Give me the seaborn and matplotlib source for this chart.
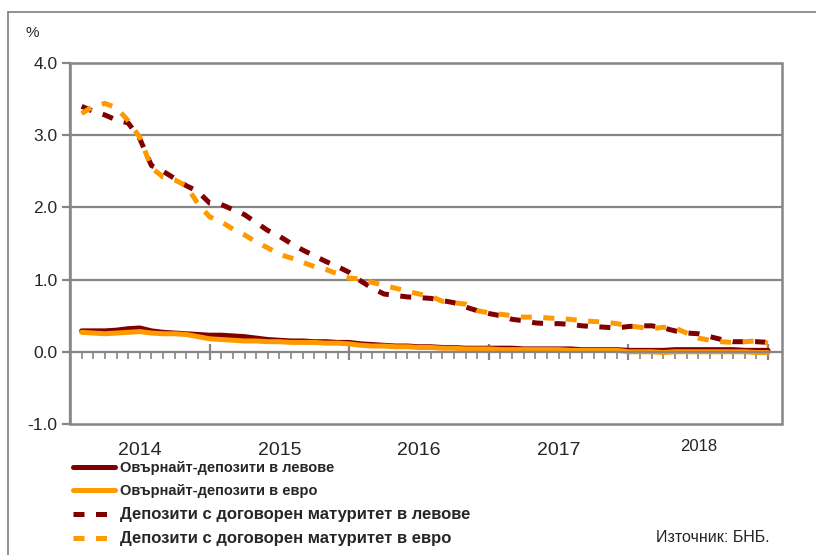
import numpy as np
import pandas as pd
import matplotlib
matplotlib.use('Agg')
import matplotlib.pyplot as plt
import matplotlib.transforms as mtransforms
from matplotlib.patches import Rectangle
import seaborn as sns

# Monthly data, Jan 2014 - Dec 2018 (%)
months = list(range(1, 61))

overnight_bgn = [0.29, 0.29, 0.29, 0.30, 0.32, 0.33, 0.29, 0.27, 0.26, 0.25, 0.24, 0.23,
                 0.23, 0.22, 0.21, 0.19, 0.17, 0.16, 0.15, 0.15, 0.14, 0.14, 0.13, 0.13,
                 0.11, 0.10, 0.09, 0.08, 0.08, 0.07, 0.07, 0.06, 0.06, 0.05, 0.05, 0.05,
                 0.05, 0.05, 0.04, 0.04, 0.04, 0.04, 0.04, 0.03, 0.03, 0.03, 0.03, 0.02,
                 0.02, 0.02, 0.02, 0.03, 0.03, 0.03, 0.03, 0.03, 0.03, 0.02, 0.02, 0.02]

overnight_eur = [0.27, 0.26, 0.25, 0.26, 0.27, 0.28, 0.26, 0.25, 0.25, 0.24, 0.21, 0.18,
                 0.17, 0.16, 0.15, 0.15, 0.14, 0.14, 0.13, 0.13, 0.13, 0.12, 0.12, 0.11,
                 0.09, 0.08, 0.08, 0.07, 0.07, 0.06, 0.06, 0.05, 0.05, 0.04, 0.04, 0.04,
                 0.03, 0.03, 0.03, 0.03, 0.03, 0.03, 0.02, 0.02, 0.02, 0.02, 0.02, 0.00,
                 0.00, 0.00, -0.01, 0.00, 0.00, 0.00, 0.00, 0.00, 0.00, 0.00, -0.01, -0.01]

term_bgn = [3.40, 3.33, 3.28, 3.21, 3.17, 2.95, 2.58, 2.50, 2.40, 2.30, 2.22, 2.06,
            2.04, 1.97, 1.90, 1.79, 1.68, 1.60, 1.50, 1.41, 1.33, 1.25, 1.18, 1.10,
            0.98, 0.88, 0.80, 0.78, 0.76, 0.75, 0.74, 0.71, 0.68, 0.62, 0.57, 0.53,
            0.50, 0.45, 0.43, 0.40, 0.39, 0.39, 0.38, 0.36, 0.35, 0.34, 0.33, 0.35,
            0.36, 0.36, 0.33, 0.29, 0.26, 0.25, 0.21, 0.17, 0.14, 0.14, 0.14, 0.13]

term_eur = [3.30, 3.40, 3.44, 3.38, 3.20, 2.97, 2.55, 2.42, 2.38, 2.30, 2.05, 1.87,
            1.80, 1.70, 1.62, 1.52, 1.44, 1.35, 1.30, 1.24, 1.18, 1.14, 1.08, 1.02,
            1.01, 0.96, 0.92, 0.88, 0.84, 0.80, 0.77, 0.70, 0.68, 0.66, 0.57, 0.54,
            0.52, 0.50, 0.48, 0.48, 0.47, 0.46, 0.45, 0.43, 0.42, 0.41, 0.39, 0.36,
            0.34, 0.32, 0.34, 0.33, 0.26, 0.19, 0.16, 0.14, 0.13, 0.14, 0.15, 0.12]

series_names = ['Овърнайт-депозити в левове',
                'Овърнайт-депозити в евро',
                'Депозити с договорен матуритет в левове',
                'Депозити с договорен матуритет в евро']
years = ['2014', '2015', '2016', '2017', '2018']
y_ticks = [-1.0, 0.0, 1.0, 2.0, 3.0, 4.0]

colors = {series_names[0]: '#800000', series_names[1]: '#FF9900',
          series_names[2]: '#800000', series_names[3]: '#FF9900'}
dashes = {series_names[0]: '', series_names[1]: '',
          series_names[2]: (2.2, 2.3), series_names[3]: (2.2, 2.3)}

# Long-form table for seaborn
frames = []
for name, vals in zip(series_names, [overnight_bgn, overnight_eur, term_bgn, term_eur]):
    frames.append(pd.DataFrame({'month': months, 'value': vals, 'series': name}))
df = pd.concat(frames, ignore_index=True)

sns.set_style('white')
plt.rcParams['font.family'] = ['Liberation Sans', 'DejaVu Sans']

fig = plt.figure(figsize=(8.16, 5.55), dpi=100)
ax = fig.add_axes([70 / 816, 1 - 424 / 555, 712 / 816, 361 / 555])

grey = '#868686'

for v in [1, 2, 3, 4]:
    ax.axhline(v, color=grey, lw=1.6, zorder=0)

sns.lineplot(data=df, x='month', y='value', hue='series', style='series',
             palette=colors, dashes=dashes, linewidth=3.6, ax=ax,
             hue_order=series_names, style_order=series_names, legend=True)

ax.set_xlim(0, 61.2)
ax.set_ylim(-1.0, 4.0)
ax.set_xlabel('')
ax.set_ylabel('')

# spines: bottom spine acts as zero line with month ticks
for s in ['top', 'right']:
    ax.spines[s].set_visible(False)
ax.spines['left'].set_color(grey)
ax.spines['left'].set_linewidth(1.6)
ax.spines['bottom'].set_position(('data', 0))
ax.spines['bottom'].set_color(grey)
ax.spines['bottom'].set_linewidth(1.6)
ax.add_patch(Rectangle((0, 0), 1, 1, transform=ax.transAxes, fill=False,
                       edgecolor=grey, lw=1.8, clip_on=False, zorder=0))

ax.set_yticks(y_ticks)
ax.set_yticklabels([f'{t:.1f}' for t in y_ticks], fontsize=12.5)
ax.tick_params(axis='y', direction='out', length=6, width=1.6, color=grey, pad=3, left=True)

ax.set_xticks([12, 24, 36, 48, 60])
ax.set_xticks([m for m in months if m % 12 != 0], minor=True)
ax.tick_params(axis='x', which='major', direction='inout', length=12, width=1.6,
               color=grey, labelbottom=False, bottom=True)
ax.tick_params(axis='x', which='minor', direction='out', length=5, width=1.2,
               color=grey, bottom=True)

trans = mtransforms.blended_transform_factory(ax.transData, ax.transAxes)
for i, yr in enumerate(years):
    if yr == '2018':
        ax.text(6 + 12 * i, -0.063, yr, transform=trans, ha='center', va='center', fontsize=12)
    else:
        ax.text(6 + 12 * i, -0.073, yr, transform=trans, ha='center', va='center', fontsize=14)

fig.text(32 / 816, 1 - 33 / 555, '%', ha='center', va='center', fontsize=11)

handles, labels = ax.get_legend_handles_labels()
leg = ax.legend(handles, labels, loc='upper left', bbox_to_anchor=(73 / 816, 1 - 461 / 555),
                bbox_transform=fig.transFigure, frameon=False, borderpad=0, borderaxespad=0,
                handlelength=2.9, handletextpad=0.35, labelspacing=0.62,
                prop={'weight': 'bold', 'size': 10.5, 'family': 'Liberation Sans'})
for t in leg.get_texts()[2:]:
    t.set_fontsize(12)

fig.text(770 / 816, 1 - 537 / 555, 'Източник: БНБ.', ha='right', va='center', fontsize=11.5)

# outer frame (top and left)
fig.add_artist(plt.Line2D([8 / 816, 1.0], [1 - 12 / 555, 1 - 12 / 555],
                          transform=fig.transFigure, color='#7f7f7f', lw=1.2))
fig.add_artist(plt.Line2D([8 / 816, 8 / 816], [0.0, 1 - 12 / 555],
                          transform=fig.transFigure, color='#7f7f7f', lw=1.2))

fig.savefig('out.png', dpi=100)
